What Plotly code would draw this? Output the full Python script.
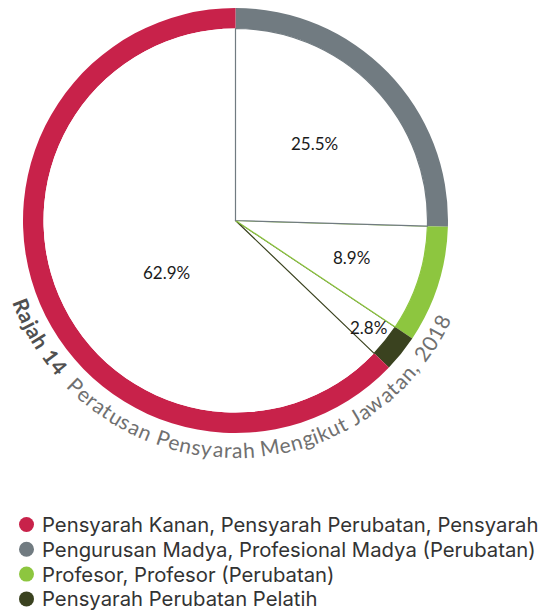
import math
import plotly.graph_objects as go

# Share of lecturers by position, 2018 (percent)
categories = [
    "Pensyarah Kanan, Pensyarah Perubatan, Pensyarah",
    "Pengurusan Madya, Profesional Madya (Perubatan)",
    "Profesor, Profesor (Perubatan)",
    "Pensyarah Perubatan Pelatih",
]
values = [62.9, 25.5, 8.9, 2.8]
colors = ["#C8224A", "#717B81", "#8DC63F", "#3A421F"]

title_bold = "Rajah 14"
title_rest = "Peratusan Pensyarah Mengikut Jawatan, 2018"

W, H = 544, 613
FONT = "Lato"
KEY_FONT = "Inter"
CX, CY = 235.5, 220.5          # pie centre (px)
R_OUT, R_IN = 212.5, 192.0     # ring radii (px)


def domain(r):
    return dict(x=[(CX - r) / W, (CX + r) / W],
                y=[(H - CY - r) / H, (H - CY + r) / H])


fig = go.Figure()
total = sum(values)

# Outer coloured ring; clockwise from 12 o'clock: grey, green, dark, red
ring_order = [1, 2, 3, 0]
fig.add_trace(go.Pie(
    labels=[categories[i] for i in ring_order],
    values=[values[i] for i in ring_order],
    marker=dict(colors=[colors[i] for i in ring_order], line=dict(width=0)),
    hole=R_IN / R_OUT, sort=False, direction="clockwise", rotation=0,
    textinfo="none", hoverinfo="label+percent", showlegend=False,
    domain=domain(R_OUT),
))

# White inner pie whose slice edges draw the thin radial dividers.
# Drawn red -> dark -> green -> grey so later edges sit on top.
inner_order = [0, 3, 2, 1]
fig.add_trace(go.Pie(
    labels=[categories[i] for i in inner_order],
    values=[values[i] for i in inner_order],
    marker=dict(colors=["white"] * 4,
                line=dict(color=[colors[i] for i in inner_order],
                          width=[0, 1.2, 1.2, 1.2])),
    sort=False, direction="counterclockwise",
    rotation=-values[0] / total * 360,
    textinfo="none", hoverinfo="skip", showlegend=False,
    domain=domain(R_IN),
))

annotations = []

# Percentage labels placed at each slice's angle
label_radius = {1: 110, 2: 122, 3: 171, 0: 87}
label_shift = {1: 0, 2: 0, 3: 0, 0: -14}
start = 0.0
for i in ring_order:
    span = values[i] / total * 360
    phi = math.radians(start + span / 2 + label_shift[i])
    r = label_radius[i]
    annotations.append(dict(
        x=CX + r * math.sin(phi), y=CY - r * math.cos(phi),
        text=f"{values[i]}%", showarrow=False,
        font=dict(family=FONT, size=17, color="#1a1a1a"),
        xanchor="center", yanchor="middle",
    ))
    start += span

# Curved caption running round the bottom of the ring
widths = {
    "a": .51, "b": .56, "c": .46, "d": .56, "e": .52, "f": .32, "g": .50,
    "h": .56, "i": .24, "j": .24, "k": .50, "l": .24, "m": .84, "n": .56,
    "o": .56, "p": .56, "r": .37, "s": .43, "t": .35, "u": .56, "w": .77,
    "y": .50, "R": .62, "P": .58, "M": .82, "J": .38, ",": .24, " ": .28,
}
caption = [(ch, True) for ch in title_bold] + [(" ", False), (" ", False)] + \
          [(ch, False) for ch in title_rest]
adv = [widths.get(ch, .58) for ch, _ in caption]
theta0, theta1 = 160.0, 24.5   # screen angles (deg, y down) of caption ends
R_TXT = 229
scale = (theta0 - theta1) / sum(adv)
pos = theta0
for (ch, bold), a in zip(caption, adv):
    th = pos - a * scale / 2
    pos -= a * scale
    if ch == " ":
        continue
    t = math.radians(th)
    annotations.append(dict(
        x=CX + R_TXT * math.cos(t), y=CY + R_TXT * math.sin(t),
        text=f"<b>{ch}</b>" if bold else ch, showarrow=False,
        textangle=th - 90,
        font=dict(family=FONT, size=21,
                  color="#505050" if bold else "#707070"),
        xanchor="center", yanchor="middle",
    ))

# Key below the chart: round swatch + label per category
KEY_X, KEY_Y0, KEY_DY = 26.5, 524.5, 24.8
key_y = [KEY_Y0 + k * KEY_DY for k in range(len(categories))]
fig.add_trace(go.Scatter(
    x=[KEY_X] * len(categories), y=key_y, mode="markers",
    marker=dict(symbol="circle", size=15, color=colors, line=dict(width=0)),
    hoverinfo="skip", showlegend=False,
))
for name, y in zip(categories, key_y):
    annotations.append(dict(
        x=KEY_X + 14, y=y, text=name, showarrow=False,
        font=dict(family=KEY_FONT, size=20.3, color="#333333"),
        xanchor="left", yanchor="middle", borderpad=0,
    ))

fig.update_layout(
    width=W, height=H,
    margin=dict(l=0, r=0, t=0, b=0),
    paper_bgcolor="white", plot_bgcolor="white",
    xaxis=dict(range=[0, W], visible=False, domain=[0, 1], fixedrange=True),
    yaxis=dict(range=[H, 0], visible=False, domain=[0, 1], fixedrange=True),
    showlegend=False,
    annotations=annotations,
)

fig.write_html("out.html")
